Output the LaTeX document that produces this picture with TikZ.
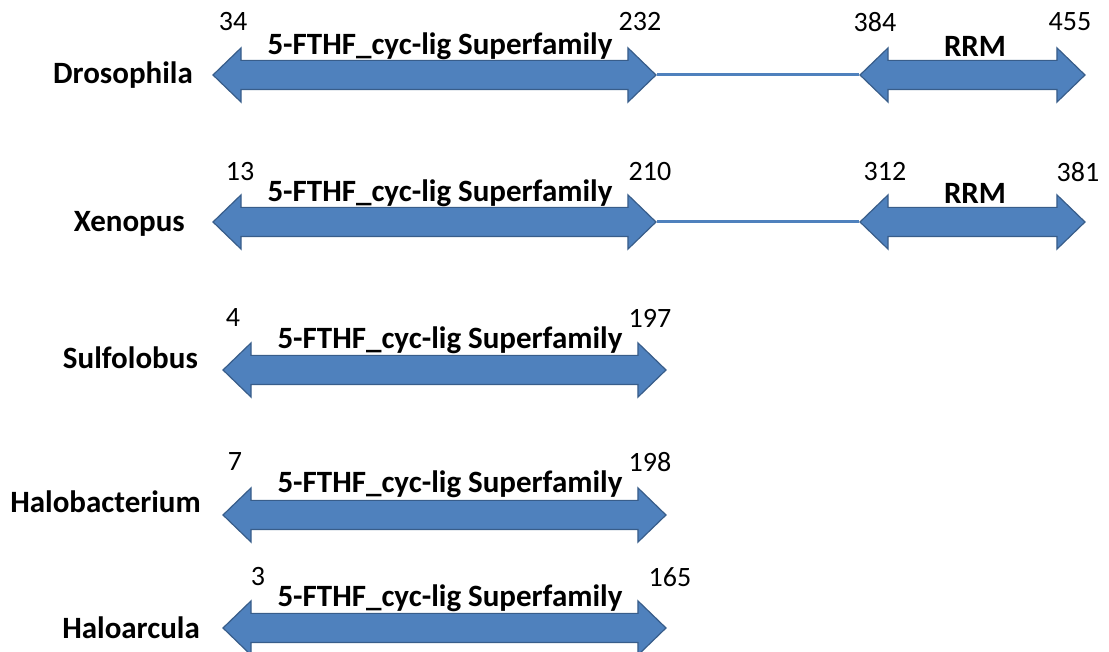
\documentclass[tikz,border=0pt]{standalone}
\usepackage{fontspec}
\setmainfont{Carlito}
\usetikzlibrary{shapes.arrows, positioning}
\definecolor{domainfill}{HTML}{4F81BD}
\definecolor{domainline}{HTML}{385D8A}

\begin{document}
\begin{tikzpicture}[
    x=1pt, y=1pt,
    domainbox/.style={double arrow, draw=domainline, fill=domainfill, line width=1.2pt,
        double arrow head extend=12.5pt, double arrow tip angle=88,
        inner xsep=0pt, inner ysep=14pt, minimum width=53pt},
    fthf/.style={domainbox, minimum height=443pt},
    rrm/.style={domainbox, minimum height=225pt},
    species/.style={font=\fontsize{31}{37}\selectfont\bfseries, anchor=east, inner sep=0pt},
    dname/.style={font=\fontsize{31}{37}\selectfont\bfseries, inner sep=0pt},
    resnum/.style={font=\fontsize{28}{34}\selectfont, inner sep=0pt},
    linker/.style={domainfill, line width=3pt}
]
    \useasboundingbox (0,0) rectangle (1109,652);

    % Species
    \node[species] (dros)  at (193,577) {Drosophila};
    \node[species] (xen)   at (185,428) {Xenopus};
    \node[species] (sulf)  at (198,294) {Sulfolobus};
    \node[species] (halob) at (201,150) {Halobacterium};
    \node[species] (haloa) at (200,24)  {Haloarcula};

    % Domains
    \node[fthf] (dros-fthf)  at (434.5,577) {};
    \node[rrm]  (dros-rrm)   at (972.5,577) {};
    \node[fthf] (xen-fthf)   at (434.5,430) {};
    \node[rrm]  (xen-rrm)    at (972.5,430) {};
    \node[fthf] (sulf-fthf)  at (444.5,282) {};
    \node[fthf] (halob-fthf) at (444.5,137) {};
    \node[fthf] (haloa-fthf) at (444.5,24)  {};

    % Linkers
    \draw[linker] (dros-fthf.east) -- (dros-rrm.west);
    \draw[linker] (xen-fthf.east) -- (xen-rrm.west);

    % Domain names
    \node[dname] (dros-fthf-name)  at (440,606) {5-FTHF\_cyc-lig Superfamily};
    \node[dname] (dros-rrm-name)   at (975,606) {RRM};
    \node[dname] (xen-fthf-name)   at (440,459) {5-FTHF\_cyc-lig Superfamily};
    \node[dname] (xen-rrm-name)    at (975,459) {RRM};
    \node[dname] (sulf-fthf-name)  at (450,312) {5-FTHF\_cyc-lig Superfamily};
    \node[dname] (halob-fthf-name) at (450,168) {5-FTHF\_cyc-lig Superfamily};
    \node[dname] (haloa-fthf-name) at (450,54)  {5-FTHF\_cyc-lig Superfamily};

    % Residue numbers
    \node[resnum] (dros-a)  at (233,630)  {34};
    \node[resnum] (dros-b)  at (640,630)  {232};
    \node[resnum] (dros-c)  at (875,630)  {384};
    \node[resnum] (dros-d)  at (1070,630) {455};
    \node[resnum] (xen-a)   at (240,480)  {13};
    \node[resnum] (xen-b)   at (650,480)  {210};
    \node[resnum] (xen-c)   at (885,480)  {312};
    \node[resnum] (xen-d)   at (1078,480) {381};
    \node[resnum] (sulf-a)  at (233,334)  {4};
    \node[resnum] (sulf-b)  at (650,334)  {197};
    \node[resnum] (halob-a) at (235,190)  {7};
    \node[resnum] (halob-b) at (650,190)  {198};
    \node[resnum] (haloa-a) at (258,75)   {3};
    \node[resnum] (haloa-b) at (670,75)   {165};
\end{tikzpicture}
\end{document}
